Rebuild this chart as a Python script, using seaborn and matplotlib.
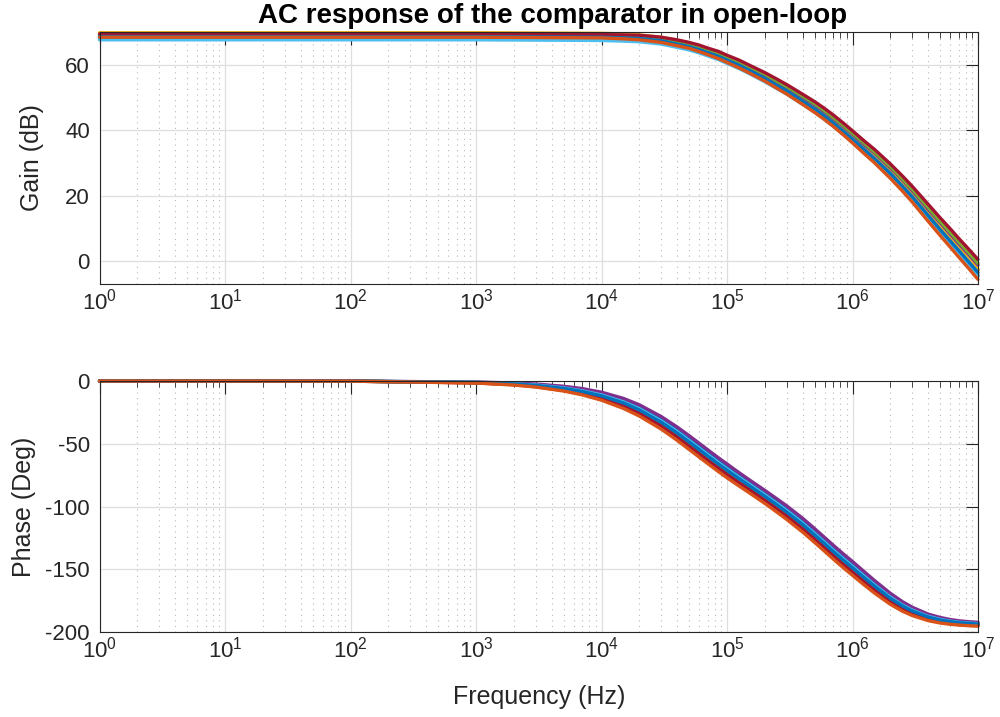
import numpy as np
import pandas as pd
import matplotlib
matplotlib.use('Agg')
import matplotlib.pyplot as plt
import seaborn as sns
from matplotlib.ticker import FixedLocator, NullFormatter, LogLocator

# frequency points (Hz)
freq_gain = [1, 1e3, 1e4, 1.5e4, 2e4, 3e4, 4e4, 5e4, 6e4, 7e4, 8.5e4,
             1e5, 1.25e5, 1.5e5, 2e5, 2.5e5, 3e5, 4e5, 5e5, 6e5, 7e5, 8.5e5,
             1e6, 1.25e6, 1.5e6, 2e6, 2.5e6, 3e6, 4e6, 5e6, 6e6, 7e6, 8.5e6, 1e7]
freq_phase = [1, 1e2, 1e3, 2e3, 3e3, 5e3, 7e3, 1e4, 1.5e4, 2e4, 3e4, 4e4, 5e4,
              6e4, 7e4, 8.5e4, 1e5, 1.25e5, 1.5e5, 2e5, 2.5e5, 3e5, 4e5, 5e5,
              6e5, 7e5, 8.5e5, 1e6, 1.25e6, 1.5e6, 2e6, 2.5e6, 3e6, 4e6, 5e6,
              6e6, 7e6, 8.5e6, 1e7]

# gain (dB) of each simulation run
gain_runs = [
    [68.2, 68.2, 68.0, 67.8, 67.5, 66.8, 65.8, 65.0, 64.1, 63.1, 62.0, 60.8, 59.2, 57.6, 55.2, 53.0, 51.3,
     48.3, 45.8, 43.6, 41.7, 38.9, 36.6, 33.3, 30.6, 26.1, 22.2, 18.9, 13.2, 8.9, 5.4, 2.5, -1.2, -4.3],
    [69.2, 69.2, 69.0, 68.8, 68.6, 67.9, 66.9, 66.1, 65.2, 64.3, 63.2, 62.0, 60.4, 58.9, 56.4, 54.3, 52.6,
     49.5, 47.1, 44.9, 43.0, 40.2, 37.9, 34.6, 32.0, 27.4, 23.6, 20.3, 14.6, 10.3, 6.9, 3.9, 0.3, -2.8],
    [69.8, 69.8, 69.6, 69.4, 69.1, 68.4, 67.5, 66.7, 65.7, 64.8, 63.7, 62.5, 60.9, 59.3, 56.9, 54.7, 53.0,
     50.0, 47.5, 45.3, 43.4, 40.6, 38.3, 35.0, 32.3, 27.8, 23.9, 20.6, 15.0, 10.6, 7.2, 4.3, 0.6, -2.5],
    [68.9, 68.9, 68.7, 68.6, 68.4, 67.8, 66.9, 66.2, 65.3, 64.4, 63.4, 62.2, 60.6, 59.2, 56.8, 54.8, 53.1,
     50.1, 47.8, 45.6, 43.7, 41.1, 38.8, 35.5, 33.0, 28.5, 24.8, 21.5, 15.9, 11.7, 8.3, 5.4, 1.9, -1.2],
    [69.1, 69.1, 68.9, 68.8, 68.6, 68.0, 67.1, 66.4, 65.5, 64.6, 63.6, 62.4, 60.9, 59.4, 57.1, 55.0, 53.3,
     50.4, 48.1, 45.9, 44.0, 41.4, 39.1, 35.9, 33.3, 28.9, 25.1, 21.9, 16.4, 12.1, 8.8, 5.9, 2.4, -0.7],
    [67.6, 67.6, 67.4, 67.2, 67.0, 66.3, 65.3, 64.5, 63.6, 62.7, 61.6, 60.4, 58.8, 57.3, 54.8, 52.7, 51.0,
     47.9, 45.5, 43.3, 41.3, 38.6, 36.3, 32.9, 30.3, 25.7, 21.9, 18.5, 12.8, 8.5, 5.0, 2.1, -1.6, -4.7],
    [69.4, 69.4, 69.2, 69.1, 69.0, 68.4, 67.6, 66.8, 66.0, 65.1, 64.1, 62.9, 61.4, 59.9, 57.6, 55.6, 53.9,
     51.0, 48.7, 46.6, 44.7, 42.1, 39.8, 36.6, 34.1, 29.7, 26.0, 22.8, 17.4, 13.2, 9.9, 7.0, 3.5, 0.5],
    [68.6, 68.6, 68.4, 68.2, 68.0, 67.3, 66.3, 65.5, 64.6, 63.7, 62.6, 61.4, 59.8, 58.3, 55.8, 53.7, 52.0,
     48.9, 46.5, 44.3, 42.3, 39.6, 37.3, 34.0, 31.3, 26.8, 22.9, 19.6, 14.0, 9.6, 6.2, 3.3, -0.4, -3.5],
    [68.4, 68.4, 68.2, 67.9, 67.6, 66.8, 65.8, 65.0, 64.0, 63.1, 61.9, 60.7, 59.0, 57.5, 55.0, 52.8, 51.0,
     47.9, 45.4, 43.2, 41.2, 38.5, 36.1, 32.7, 30.0, 25.3, 21.4, 18.0, 12.2, 7.8, 4.3, 1.3, -2.4, -5.6],
]

# phase (deg) of the same runs
phase_runs = [
    [0, -0.1, -1.0, -1.9, -2.9, -5.0, -7.0, -10.2, -15.5, -20.7, -30.4, -38.7, -45.8, -51.8, -56.9, -63.2,
     -68.3, -75.2, -80.7, -89.2, -96.0, -101.8, -111.5, -119.9, -126.9, -132.9, -140.2, -146.0, -154.3,
     -161.0, -170.9, -177.3, -181.6, -186.7, -189.3, -190.8, -191.7, -192.4, -192.9],
    [0, -0.1, -1.5, -3.0, -4.6, -7.6, -10.5, -14.7, -21.1, -27.0, -37.4, -46.1, -53.5, -59.5, -64.6, -70.9,
     -76.0, -82.6, -88.0, -96.5, -103.4, -109.3, -119.2, -127.6, -134.6, -140.6, -147.9, -153.7, -161.7,
     -168.0, -177.0, -182.6, -186.2, -190.4, -192.4, -193.4, -194.1, -194.7, -195.0],
    [0, -0.1, -1.2, -2.4, -3.6, -6.1, -8.5, -12.1, -17.9, -23.4, -33.4, -41.9, -49.1, -55.1, -60.2, -66.5,
     -71.6, -78.4, -83.8, -92.3, -99.2, -105.0, -114.8, -123.2, -130.2, -136.2, -143.5, -149.3, -157.5,
     -164.0, -173.5, -179.6, -183.6, -188.3, -190.6, -191.9, -192.7, -193.4, -193.8],
    [0, -0.1, -0.8, -1.6, -2.4, -4.2, -6.0, -8.9, -13.9, -18.9, -28.4, -36.6, -43.6, -49.6, -54.7, -61.0,
     -66.1, -73.1, -78.6, -87.1, -93.9, -99.6, -109.3, -117.7, -124.7, -130.7, -138.0, -143.8, -152.2,
     -159.0, -169.1, -175.8, -180.3, -185.7, -188.4, -190.0, -191.0, -191.8, -192.3],
    [0, -0.1, -1.3, -2.6, -4.0, -6.7, -9.3, -13.1, -19.1, -24.8, -34.9, -43.5, -50.8, -56.8, -61.9, -68.2,
     -73.3, -80.0, -85.4, -93.9, -100.8, -106.6, -116.5, -124.9, -131.9, -137.9, -145.2, -151.0, -159.1,
     -165.5, -174.8, -180.7, -184.6, -189.1, -191.3, -192.5, -193.2, -193.9, -194.3],
    [0, -0.1, -1.1, -2.2, -3.2, -5.5, -7.8, -11.1, -16.7, -22.1, -31.9, -40.3, -47.5, -53.5, -58.6, -64.9,
     -70.0, -76.8, -82.2, -90.7, -97.6, -103.4, -113.2, -121.6, -128.6, -134.6, -141.9, -147.7, -155.9,
     -162.5, -172.2, -178.5, -182.6, -187.5, -189.9, -191.3, -192.2, -192.9, -193.4],
    [0, -0.1, -1.4, -2.8, -4.2, -7.1, -9.8, -13.7, -19.9, -25.7, -35.9, -44.6, -51.9, -57.9, -63.0, -69.3,
     -74.4, -81.1, -86.4, -94.9, -101.9, -107.7, -117.6, -126.0, -133.0, -139.0, -146.3, -152.1, -160.2,
     -166.5, -175.7, -181.5, -185.3, -189.6, -191.7, -192.9, -193.6, -194.2, -194.6],
    [0, -0.1, -1.2, -2.3, -3.5, -5.9, -8.3, -11.8, -17.5, -23.0, -32.9, -41.4, -48.6, -54.6, -59.7, -66.0,
     -71.1, -77.9, -83.3, -91.8, -98.7, -104.5, -114.3, -122.7, -129.7, -135.7, -143.0, -148.8, -157.0,
     -163.5, -173.1, -179.2, -183.3, -188.0, -190.4, -191.7, -192.5, -193.2, -193.7],
    [0, -0.1, -1.6, -3.2, -4.8, -8.0, -11.0, -15.3, -21.9, -27.9, -38.4, -47.2, -54.6, -60.6, -65.7, -72.0,
     -77.1, -83.7, -89.0, -97.5, -104.5, -110.4, -120.3, -128.7, -135.7, -141.7, -149.0, -154.8, -162.8,
     -169.0, -177.9, -183.4, -186.9, -190.9, -192.8, -193.8, -194.4, -195.0, -195.3],
]

run_names = ['run%d' % (i + 1) for i in range(len(gain_runs))]
run_colors = ['#0072BD', '#D95319', '#EDB120', '#7E2F8E', '#77AC30',
              '#4DBEEE', '#A2142F', '#0072BD', '#D95319']
decades = [1e0, 1e1, 1e2, 1e3, 1e4, 1e5, 1e6, 1e7]

gain_df = pd.DataFrame({
    'run': np.repeat(run_names, len(freq_gain)),
    'freq': freq_gain * len(gain_runs),
    'gain': np.concatenate(gain_runs),
})
phase_df = pd.DataFrame({
    'run': np.repeat(run_names, len(freq_phase)),
    'freq': freq_phase * len(phase_runs),
    'phase': np.concatenate(phase_runs),
})

sns.set_style('white')
plt.rcParams['font.family'] = ['Liberation Sans', 'DejaVu Sans']
plt.rcParams['mathtext.fontset'] = 'custom'
plt.rcParams['mathtext.rm'] = 'Liberation Sans'
plt.rcParams['mathtext.it'] = 'Liberation Sans:italic'
plt.rcParams['axes.unicode_minus'] = False

DARK = '#262626'

fig = plt.figure(figsize=(10, 7.17), dpi=100)
ax1 = fig.add_axes([0.0995, 0.6039, 0.8785, 0.3515])
ax2 = fig.add_axes([0.0995, 0.1185, 0.8785, 0.3501])


def style_axes(ax):
    ax.set_xscale('log')
    ax.set_xlim(1, 1e7)
    ax.xaxis.set_major_locator(FixedLocator(decades))
    ax.xaxis.set_minor_locator(LogLocator(base=10, subs=np.arange(2, 10), numticks=100))
    ax.xaxis.set_minor_formatter(NullFormatter())
    ax.grid(which='major', color='#dedede', linewidth=0.9, linestyle='-')
    ax.grid(which='minor', axis='x', color='#b8b8b8', linewidth=0.8, linestyle=(0, (1, 4)))
    ax.set_axisbelow(True)
    ax.tick_params(which='both', direction='in', top=True, right=True,
                   colors=DARK, labelsize=16)
    ax.tick_params(which='major', length=9, width=0.8)
    ax.tick_params(which='minor', length=4.5, width=0.6)
    ax.tick_params(axis='x', which='major', pad=3)
    ax.tick_params(axis='y', which='major', pad=7)
    for s in ax.spines.values():
        s.set_color(DARK)
        s.set_linewidth(0.8)


sns.lineplot(data=gain_df, x='freq', y='gain', hue='run', hue_order=run_names,
             palette=run_colors, estimator=None, sort=False, linewidth=2.4,
             legend=False, clip_on=False, ax=ax1)
sns.lineplot(data=phase_df, x='freq', y='phase', hue='run', hue_order=run_names,
             palette=run_colors, estimator=None, sort=False, linewidth=2.4,
             legend=False, clip_on=False, ax=ax2)

style_axes(ax1)
style_axes(ax2)

ax1.set_ylim(-7, 70)
ax1.yaxis.set_major_locator(FixedLocator([0, 20, 40, 60]))
ax2.set_ylim(-200, 0)
ax2.yaxis.set_major_locator(FixedLocator([-200, -150, -100, -50, 0]))

ax1.set_xlabel('')
ax1.set_ylabel('Gain (dB)', fontsize=18, color=DARK)
ax1.yaxis.set_label_coords(-0.063, 0.5)
ax2.set_ylabel('Phase (Deg)', fontsize=18, color=DARK)
ax2.yaxis.set_label_coords(-0.072, 0.5)
ax2.set_xlabel('Frequency (Hz)', fontsize=18, color=DARK)
ax2.xaxis.set_label_coords(0.5, -0.212)
ax1.set_title('AC response of the comparator in open-loop', fontsize=20,
              fontweight='bold', color='black', pad=6.5, x=0.516)

fig.savefig('out.png', dpi=100)
